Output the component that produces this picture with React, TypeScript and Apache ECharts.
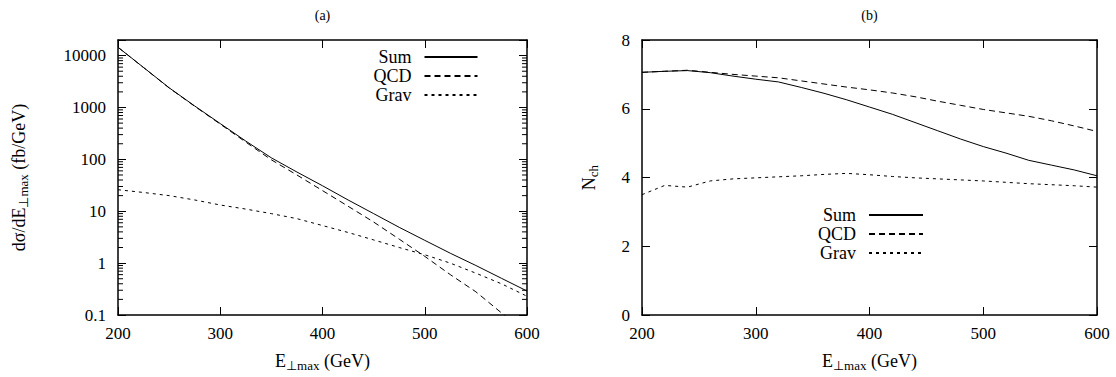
import React, { useEffect, useRef } from 'react';
import * as echarts from 'echarts';

const FONT = '"Liberation Serif", "Times New Roman", Times, serif';

// Panel (a): differential cross section (fb/GeV), log scale
const E_A = [200, 225, 250, 275, 300, 325, 350, 375, 400, 425, 450, 475, 500, 525, 550, 575, 600];
const SUM_A = [14500, 5900, 2400, 1070, 490, 225, 107, 57, 31, 16.5, 9.0, 4.9, 2.75, 1.55, 0.9, 0.51, 0.29];
const QCD_A = [14470, 5880, 2380, 1055, 478, 215, 98, 50, 25, 12.5, 6.2, 2.9, 1.35, 0.6, 0.28, 0.11, 0.045];
const GRAV_A = [26, 23, 20, 16.5, 13.2, 11, 9, 7.2, 5.3, 3.9, 2.8, 2.0, 1.45, 1.0, 0.64, 0.4, 0.23];

// Panel (b): charged multiplicity
const E_B = [200, 220, 240, 260, 280, 300, 320, 340, 360, 380, 400, 420, 440, 460, 480, 500, 520, 540, 560, 580, 600];
const SUM_B = [7.06, 7.09, 7.11, 7.05, 6.95, 6.86, 6.78, 6.62, 6.45, 6.26, 6.05, 5.84, 5.6, 5.36, 5.12, 4.9, 4.71, 4.5, 4.36, 4.22, 4.05];
const QCD_B = [7.06, 7.09, 7.12, 7.06, 7.0, 6.95, 6.9, 6.81, 6.72, 6.63, 6.55, 6.46, 6.35, 6.22, 6.1, 5.98, 5.88, 5.78, 5.65, 5.5, 5.34];
const GRAV_B = [3.5, 3.77, 3.72, 3.9, 3.96, 3.99, 4.02, 4.05, 4.09, 4.12, 4.08, 4.03, 3.99, 3.96, 3.93, 3.9, 3.86, 3.82, 3.79, 3.76, 3.72];

// Tick values
const X_TICKS = [200, 300, 400, 500, 600];
const LOG_MINOR = [
  0.2, 0.3, 0.4, 0.5, 0.6, 0.7, 0.8, 0.9,
  2, 3, 4, 5, 6, 7, 8, 9,
  20, 30, 40, 50, 60, 70, 80, 90,
  200, 300, 400, 500, 600, 700, 800, 900,
  2000, 3000, 4000, 5000, 6000, 7000, 8000, 9000,
];
const LEGEND_NAMES = ['Sum', 'QCD', 'Grav'];

export default function App() {
  const ref = useRef<HTMLDivElement>(null);

  useEffect(() => {
    const chart = echarts.init(ref.current as HTMLDivElement, null, { renderer: 'svg' });
    const pairs = (xs: number[], ys: number[]) => xs.map((x, i) => [x, ys[i]]);

    const axisLine = { show: true, onZero: false, lineStyle: { color: '#000', width: 1.5 } };
    const axisTick = { show: true, inside: true, length: 8, lineStyle: { color: '#000', width: 1 } };
    const labelStyle = { color: '#000', fontFamily: FONT, fontSize: 17 };
    const rich = {
      m: { fontFamily: FONT, fontSize: 18, color: '#000', lineHeight: 22 },
      s: { fontFamily: FONT, fontSize: 13, color: '#000', lineHeight: 12, verticalAlign: 'bottom' },
    };

    const xBottom = (gridIndex: number) => ({
      type: 'value',
      gridIndex,
      min: X_TICKS[0],
      max: X_TICKS[X_TICKS.length - 1],
      interval: 100,
      axisLine,
      axisTick,
      splitLine: { show: false },
      axisLabel: { ...labelStyle, margin: 10 },
      name: '{m|E}{s|⊥max}{m| (GeV)}',
      nameLocation: 'middle',
      nameGap: 35,
      nameTextStyle: { rich },
    });
    const xTop = (gridIndex: number) => ({
      type: 'value',
      gridIndex,
      position: 'top',
      min: X_TICKS[0],
      max: X_TICKS[X_TICKS.length - 1],
      interval: 100,
      axisLine,
      axisTick,
      splitLine: { show: false },
      axisLabel: { show: false },
    });

    const logFormatter = (v: number) => {
      const l = Math.log10(v);
      const k = Math.round(l);
      if (Math.abs(l - k) > 1e-6) return '';
      return k < 0 ? '0.1' : String(Math.pow(10, k));
    };

    const lineSeries = (name: string, xi: number, yi: number, data: number[][], type: any) => ({
      type: 'line',
      name,
      xAxisIndex: xi,
      yAxisIndex: yi,
      data,
      showSymbol: false,
      symbol: 'none',
      clip: true,
      silent: true,
      emphasis: { disabled: true },
      lineStyle: { color: '#000', width: 1, type },
      itemStyle: { color: '#000' },
    });

    const legendBase = {
      orient: 'vertical',
      align: 'right',
      padding: 0,
      itemHeight: 14,
      itemGap: 1,
      selectedMode: false,
      data: LEGEND_NAMES,
      itemStyle: { color: 'transparent', borderColor: 'transparent', borderWidth: 0, opacity: 0 },
      textStyle: { color: '#000', fontFamily: FONT, fontSize: 18, padding: [0, 8, 0, 0] },
    };

    const option: any = {
      animation: false,
      backgroundColor: '#fff',
      textStyle: { fontFamily: FONT },
      grid: [
        { left: 118, right: 589, top: 40, bottom: 57.5 },
        { left: 642, right: 19, top: 40, bottom: 57.5 },
      ],
      legend: [
        { ...legendBase, right: 637.5, top: 48, itemWidth: 53 },
        { ...legendBase, right: 192, top: 206, itemWidth: 54 },
      ],
      xAxis: [xBottom(0), xTop(0), xBottom(1), xTop(1)],
      yAxis: [
        {
          type: 'log',
          logBase: 10,
          gridIndex: 0,
          min: 0.1,
          max: 20000,
          axisLine,
          axisTick,
          splitLine: { show: false },
          axisLabel: { ...labelStyle, margin: 12, formatter: logFormatter },
          name: '{m|dσ/dE}{s|⊥max}{m| (fb/GeV)}',
          nameLocation: 'middle',
          nameRotate: 90,
          nameGap: 88,
          nameTextStyle: { rich },
        },
        {
          type: 'log',
          logBase: 10,
          gridIndex: 0,
          position: 'right',
          min: 0.1,
          max: 20000,
          axisLine,
          axisTick,
          splitLine: { show: false },
          axisLabel: { show: false },
        },
        {
          type: 'value',
          gridIndex: 1,
          min: 0,
          max: 8,
          interval: 2,
          axisLine,
          axisTick,
          splitLine: { show: false },
          axisLabel: { ...labelStyle, margin: 12 },
          name: '{m|N}{s|ch}',
          nameLocation: 'middle',
          nameRotate: 90,
          nameGap: 42,
          nameTextStyle: { rich },
        },
        {
          type: 'value',
          gridIndex: 1,
          position: 'right',
          min: 0,
          max: 8,
          interval: 2,
          axisLine,
          axisTick,
          splitLine: { show: false },
          axisLabel: { show: false },
        },
      ],
      graphic: [
        {
          type: 'text',
          x: 322.5,
          y: 15,
          style: { text: '(a)', fontFamily: FONT, fontSize: 14, fill: '#000', align: 'center', verticalAlign: 'middle' },
        },
        {
          type: 'text',
          x: 869.5,
          y: 15,
          style: { text: '(b)', fontFamily: FONT, fontSize: 14, fill: '#000', align: 'center', verticalAlign: 'middle' },
        },
      ],
      series: [
        lineSeries('Sum', 0, 0, pairs(E_A, SUM_A), 'solid'),
        lineSeries('QCD', 0, 0, pairs(E_A, QCD_A), [6, 4]),
        lineSeries('Grav', 0, 0, pairs(E_A, GRAV_A), [3, 4]),
        lineSeries('Sum', 2, 2, pairs(E_B, SUM_B), 'solid'),
        lineSeries('QCD', 2, 2, pairs(E_B, QCD_B), [6, 4]),
        lineSeries('Grav', 2, 2, pairs(E_B, GRAV_B), [3, 4]),
        {
          type: 'custom',
          xAxisIndex: 0,
          yAxisIndex: 0,
          silent: true,
          clip: false,
          data: LOG_MINOR.map((v) => [X_TICKS[0], v]),
          renderItem: (params: any, api: any) => {
            const v = api.value(1);
            const a = api.coord([X_TICKS[0], v]);
            const b = api.coord([X_TICKS[X_TICKS.length - 1], v]);
            const st = { stroke: '#000', lineWidth: 1 };
            return {
              type: 'group',
              children: [
                { type: 'line', shape: { x1: a[0], y1: a[1], x2: a[0] + 5, y2: a[1] }, style: st },
                { type: 'line', shape: { x1: b[0] - 5, y1: b[1], x2: b[0], y2: b[1] }, style: st },
              ],
            };
          },
        },
      ],
    };

    chart.setOption(option);
    return () => {
      chart.dispose();
    };
  }, []);

  return (
    <div
      ref={ref}
      style={{ position: 'fixed', left: 0, top: 0, width: 1116, height: 377, background: '#fff' }}
    />
  );
}
